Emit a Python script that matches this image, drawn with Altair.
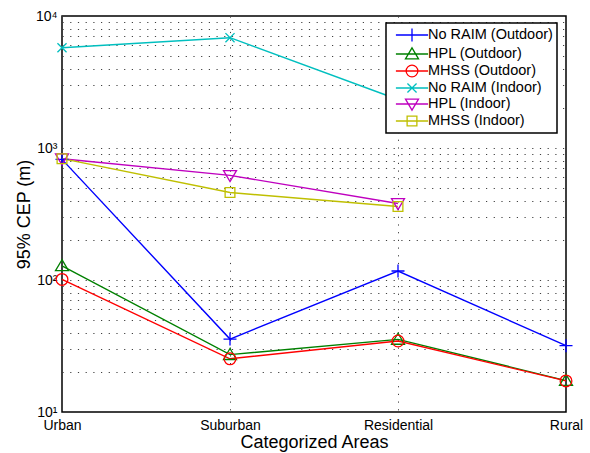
import altair as alt
import pandas as pd

categories = ["Urban", "Suburban", "Residential", "Rural"]
series_names = ["No RAIM (Outdoor)", "HPL (Outdoor)", "MHSS (Outdoor)",
                "No RAIM (Indoor)", "HPL (Indoor)", "MHSS (Indoor)"]
no_raim_outdoor = [820, 35.7, 117, 31.8]
hpl_outdoor = [128, 27.2, 35.5, 17.3]
mhss_outdoor = [101, 25.3, 34.5, 17.2]
no_raim_indoor = [5750, 6850, 2330, None]
hpl_indoor = [830, 620, 380, None]
mhss_indoor = [830, 460, 360, None]
colors = ["#0000FF", "#008000", "#FF0000", "#00BFBF", "#BF00BF", "#BFBF00"]

all_series = [no_raim_outdoor, hpl_outdoor, mhss_outdoor,
              no_raim_indoor, hpl_indoor, mhss_indoor]
rows = []
for si, (name, vals) in enumerate(zip(series_names, all_series)):
    for ci, (cat, v) in enumerate(zip(categories, vals)):
        if v is not None:
            rows.append({"series": name, "area": cat, "value": v, "order": ci, "sidx": si})
df = pd.DataFrame(rows)

# marker shapes (unit coordinates)
def plus(s): return f"M{-s},0H{s}M0,{-s}V{s}"
def tri_up(s): return f"M0,{-0.95*s}L{s},{0.75*s}L{-s},{0.75*s}Z"
def circle(s):
    r = 0.9 * s
    return f"M{-r},0A{r},{r} 0 1,0 {r},0A{r},{r} 0 1,0 {-r},0Z"
def xmark(s):
    a = 0.7 * s
    return f"M{-a},{-a}L{a},{a}M{-a},{a}L{a},{-a}"
def tri_down(s): return f"M0,{0.95*s}L{s},{-0.75*s}L{-s},{-0.75*s}Z"
def square(s):
    a = 0.75 * s
    return f"M{-a},{-a}H{a}V{a}H{-a}Z"

makers = [plus, tri_up, circle, xmark, tri_down, square]
plot_paths = [m(1) for m in makers]
leg_scale = 0.93
line_half = 2.3
legend_paths = [f"M{-line_half},0H{line_half}" + m(leg_scale) for m in makers]

def cscale():
    return alt.Scale(domain=series_names, range=colors)

x_enc = alt.X("area:N", sort=categories,
              scale=alt.Scale(type="point", padding=0),
              axis=alt.Axis(title="Categorized Areas", labelAngle=0, ticks=False,
                            labelPadding=6, titlePadding=1, domain=False,
                            grid=True, gridDash=[1.2, 6.5], gridColor="#404040"))
y_ticks = [m * 10 ** e for e in range(1, 4) for m in range(1, 10)] + [10000]
y_enc = alt.Y("value:Q",
              scale=alt.Scale(type="log", domain=[10, 10000], nice=False),
              axis=alt.Axis(title="95% CEP (m)", values=y_ticks, ticks=False,
                            labelOverlap=False, labelPadding=5, titlePadding=2,
                            domain=False, grid=True, gridDash=[1.2, 6.5],
                            gridColor="#404040",
                            labelExpr="datum.value == 10 ? '10¹' : datum.value == 100 ? '10²' : datum.value == 1000 ? '10³' : datum.value == 10000 ? '10⁴' : ''"))

base = alt.Chart(df)

lines = base.mark_line(strokeWidth=1.4).encode(
    x=x_enc, y=y_enc,
    color=alt.Color("series:N", scale=cscale(), legend=None),
    detail="series:N",
    order="order:Q",
)

points = base.mark_point(filled=False, size=169, strokeWidth=1.3, opacity=1).encode(
    x=x_enc, y=y_enc,
    color=alt.Color("series:N", scale=cscale(), legend=None),
    shape=alt.Shape("series:N", scale=alt.Scale(domain=series_names, range=plot_paths), legend=None),
)

legend_layer = base.transform_filter("false").mark_point(filled=False, size=196, strokeWidth=1.3).encode(
    x=x_enc, y=y_enc,
    color=alt.Color("series:N", scale=cscale(), legend=alt.Legend(title=None)),
    shape=alt.Shape("series:N", scale=alt.Scale(domain=series_names, range=legend_paths),
                    legend=alt.Legend(title=None)),
)

chart = alt.layer(lines, points, legend_layer).resolve_scale(
    shape="independent", color="independent"
).properties(
    width=504, height=396,
    autosize=alt.AutoSizeParams(type="none"),
    padding={"left": 62, "top": 16, "right": 24, "bottom": 41},
).configure_view(
    stroke="black", strokeWidth=1.5
).configure_axis(
    labelFont="Liberation Sans", labelFontSize=14, labelColor="black",
    titleFont="Liberation Sans", titleFontSize=18, titleFontWeight="normal", titleColor="black",
).configure_legend(
    orient="none", legendX=324, legendY=7,
    fillColor="white", strokeColor="black", strokeWidth=1.5,
    padding=4, rowPadding=0, symbolSize=196, symbolOffset=14, labelOffset=8,
    symbolStrokeWidth=1.3, symbolOpacity=1,
    labelFont="Liberation Sans", labelFontSize=14.5, labelColor="black", labelLimit=0,
)

chart.save("out.html", embed_options={"renderer": "svg", "actions": False})
